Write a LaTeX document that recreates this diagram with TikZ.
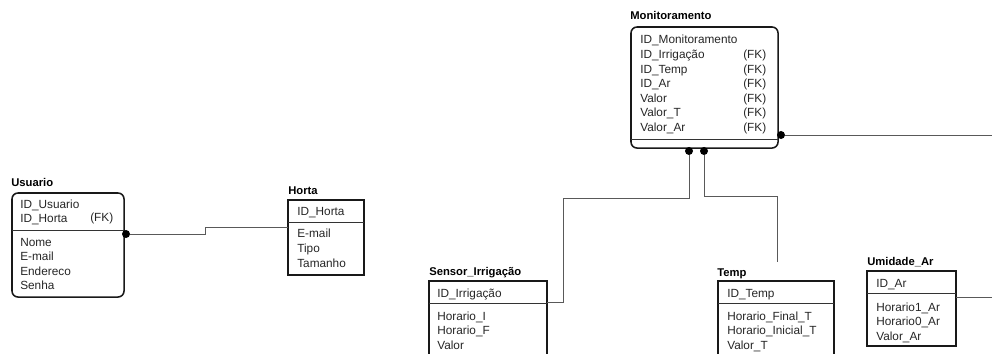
\documentclass[tikz,border=0pt]{standalone}
\usepackage{fontspec}
\setmainfont{Liberation Sans}
\usepackage{tikz}
\usetikzlibrary{positioning}

\tikzset{
  tabela/.style={draw=black!90, line width=1.1pt, anchor=north west, inner sep=0pt, outer sep=0pt},
  dependente/.style={tabela, rounded corners=0.15cm},
  titulo/.style={font=\bfseries\fontsize{8}{9}\selectfont, anchor=base west, inner sep=0pt},
  campo/.style={font=\fontsize{8.4}{10}\selectfont, text=black!85, anchor=base west, inner sep=0pt},
  divisa/.style={draw=black!80, line width=0.6pt},
  ligacao/.style={draw=black!65, line width=0.7pt},
  bola/.style={fill=black, circle, inner sep=0pt, minimum size=0.2cm},
}

\begin{document}
\begin{tikzpicture}[x=0.025cm, y=-0.025cm]
				\useasboundingbox (0,0) rectangle (992,354);
				
				% Usuario
				\node[dependente, minimum width=2.8cm, minimum height=2.6cm] (usuario) at (12,193) {};
				\node[titulo] (usuario-t) at (11,187) {Usuario};
				\draw[divisa] (usuario.west |- 0,230) -- (usuario.east |- 0,230);
				\foreach \c [count=\i] in {ID\_Usuario, ID\_Horta}
					\node[campo] (usuario-k\i) at (20,{208+14.5*(\i-1)}) {\c};
				\node[campo] (usuario-fk) at (90,222) {(FK)};
				\foreach \c [count=\i] in {Nome, E-mail, Endereco, Senha}
					\node[campo] (usuario-a\i) at (20,{246+14.6*(\i-1)}) {\c};
				
				% Horta
				\node[tabela, minimum width=1.9cm, minimum height=1.875cm] (horta) at (288,200) {};
				\node[titulo] (horta-t) at (288,195) {Horta};
				\draw[divisa] (horta.west |- 0,222) -- (horta.east |- 0,222);
				\node[campo] (horta-k1) at (297,215) {ID\_Horta};
				\foreach \c [count=\i] in {E-mail, Tipo, Tamanho}
					\node[campo] (horta-a\i) at (297,{237+15*(\i-1)}) {\c};
				
				% Monitoramento
				\node[dependente, minimum width=3.675cm, minimum height=3.025cm] (monit) at (631,27) {};
				\node[titulo] (monit-t) at (630,20) {Monitoramento};
				\draw[divisa] (monit.west |- 0,139) -- (monit.east |- 0,139);
				\foreach \c [count=\i] in {ID\_Monitoramento, ID\_Irrigação, ID\_Temp, ID\_Ar, Valor, Valor\_T, Valor\_Ar}
					\node[campo] (monit-k\i) at (640,{44+14.6*(\i-1)}) {\c};
				\foreach \i in {2,...,7}
					\node[campo] (monit-fk\i) at (743,{44+14.6*(\i-1)}) {(FK)};
				
				% Sensor_Irrigacao
				\node[tabela, minimum width=2.95cm, minimum height=2.1cm] (sensor) at (429,281) {};
				\node[titulo] (sensor-t) at (429,275) {Sensor\_Irrigação};
				\draw[divisa] (sensor.west |- 0,303) -- (sensor.east |- 0,303);
				\node[campo] (sensor-k1) at (437,297) {ID\_Irrigação};
				\foreach \c [count=\i] in {Horario\_I, Horario\_F, Valor}
					\node[campo] (sensor-a\i) at (437,{320+14.6*(\i-1)}) {\c};
				
				% Temp
				\node[tabela, minimum width=2.9cm, minimum height=2.1cm] (temp) at (718,281) {};
				\node[titulo] (temp-t) at (717,276) {Temp};
				\draw[divisa] (temp.west |- 0,303) -- (temp.east |- 0,303);
				\node[campo] (temp-k1) at (727,297) {ID\_Temp};
				\foreach \c [count=\i] in {Horario\_Final\_T, Horario\_Inicial\_T, Valor\_T}
					\node[campo] (temp-a\i) at (727,{320+14.8*(\i-1)}) {\c};
				
				% Umidade_Ar
				\node[tabela, minimum width=2.225cm, minimum height=1.875cm] (umidade) at (867,271) {};
				\node[titulo] (umidade-t) at (867,265) {Umidade\_Ar};
				\draw[divisa] (umidade.west |- 0,293) -- (umidade.east |- 0,293);
				\node[campo] (umidade-k1) at (876,287) {ID\_Ar};
				\foreach \c [count=\i] in {Horario1\_Ar, Horario0\_Ar, Valor\_Ar}
					\node[campo] (umidade-a\i) at (876,{311+14.6*(\i-1)}) {\c};
				
				% ligacoes
				\node[bola] (b1) at (126,234) {};
				\node[bola] (b2) at (781,135) {};
				\node[bola] (b3) at (689,151) {};
				\node[bola] (b4) at (704,151) {};
				\coordinate (fimA) at (992,135);
				\coordinate (fimB) at (777,262);
				\coordinate (fimC) at (992,297);
				
				\draw[ligacao] (b1.east) -- (205,234) |- (horta.west |- 0,227);
				\draw[ligacao] (b2.east) -- (fimA);
				\draw[ligacao] (b3.south) |- (563,198) |- (sensor.east |- 0,302);
				\draw[ligacao] (b4.south) |- (fimB |- 0,196) -- (fimB);
				\draw[ligacao] (umidade.east |- 0,297) -- (fimC);
\end{tikzpicture}
\end{document}
